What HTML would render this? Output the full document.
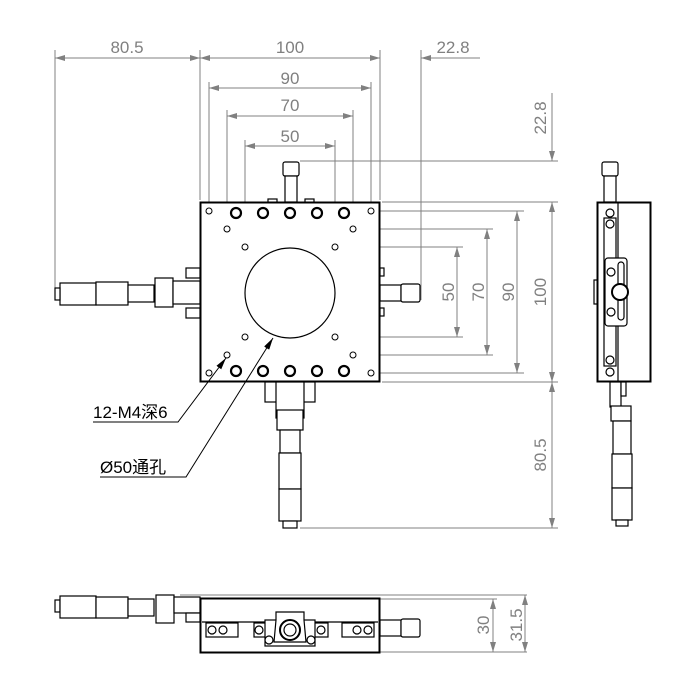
<!DOCTYPE html>
<html><head><meta charset="utf-8"><style>html,body{margin:0;padding:0;background:#fff}svg{display:block}</style></head><body>
<svg width="700" height="700" viewBox="0 0 700 700" xmlns="http://www.w3.org/2000/svg" font-family="'Liberation Sans','Noto Sans CJK SC',sans-serif">
<defs>
<marker id="a" viewBox="0 0 10 6" refX="10" refY="3" markerWidth="10" markerHeight="6" orient="auto-start-reverse" markerUnits="userSpaceOnUse"><path d="M0,0L10,3L0,6z" fill="#808080"/></marker>
<marker id="b" viewBox="0 0 12 6" refX="12" refY="3" markerWidth="12" markerHeight="6" orient="auto" markerUnits="userSpaceOnUse"><path d="M0,0L12,3L0,6z" fill="#000"/></marker>
</defs>
<g stroke="#808080" stroke-width="1" fill="none">
<line x1="55" y1="50" x2="55" y2="290"/><line x1="200" y1="50" x2="200" y2="200"/><line x1="380" y1="50" x2="380" y2="200"/><line x1="421" y1="50" x2="421" y2="300"/>
<line x1="55" y1="58" x2="200" y2="58" marker-start="url(#a)" marker-end="url(#a)"/>
<line x1="200" y1="58" x2="380" y2="58" marker-start="url(#a)" marker-end="url(#a)"/>
<line x1="480" y1="58" x2="421" y2="58" marker-end="url(#a)"/>
<line x1="209" y1="82" x2="209" y2="207"/><line x1="371" y1="82" x2="371" y2="207"/>
<line x1="209" y1="88" x2="371" y2="88" marker-start="url(#a)" marker-end="url(#a)"/>
<line x1="227" y1="110" x2="227" y2="225"/><line x1="353" y1="110" x2="353" y2="225"/>
<line x1="227" y1="116" x2="353" y2="116" marker-start="url(#a)" marker-end="url(#a)"/>
<line x1="245" y1="140" x2="245" y2="243"/><line x1="335" y1="140" x2="335" y2="243"/>
<line x1="245" y1="146" x2="335" y2="146" marker-start="url(#a)" marker-end="url(#a)"/>
<line x1="300" y1="161" x2="558" y2="161"/>
<line x1="552" y1="93" x2="552" y2="161" marker-end="url(#a)"/>
<line x1="382" y1="202" x2="558" y2="202"/><line x1="382" y1="382" x2="558" y2="382"/>
<line x1="552" y1="202" x2="552" y2="382" marker-start="url(#a)" marker-end="url(#a)"/>
<line x1="552" y1="382" x2="552" y2="528" marker-start="url(#a)" marker-end="url(#a)"/>
<line x1="300" y1="528" x2="558" y2="528"/>
<line x1="376" y1="211" x2="524" y2="211"/><line x1="376" y1="373" x2="524" y2="373"/>
<line x1="517" y1="211" x2="517" y2="373" marker-start="url(#a)" marker-end="url(#a)"/>
<line x1="358" y1="229" x2="493" y2="229"/><line x1="358" y1="355" x2="493" y2="355"/>
<line x1="487" y1="229" x2="487" y2="355" marker-start="url(#a)" marker-end="url(#a)"/>
<line x1="340" y1="247" x2="463" y2="247"/><line x1="340" y1="337" x2="463" y2="337"/>
<line x1="457" y1="247" x2="457" y2="337" marker-start="url(#a)" marker-end="url(#a)"/>
<line x1="180" y1="595" x2="527" y2="595"/><line x1="380" y1="599" x2="497" y2="599"/><line x1="380" y1="652" x2="527" y2="652"/>
<line x1="493" y1="599" x2="493" y2="652" marker-start="url(#a)" marker-end="url(#a)"/>
<line x1="525" y1="595" x2="525" y2="652" marker-start="url(#a)" marker-end="url(#a)"/>
</g>
<g fill="#808080" font-size="17">
<text x="127" y="53" text-anchor="middle">80.5</text><text x="290" y="53" text-anchor="middle">100</text><text x="453" y="53" text-anchor="middle">22.8</text>
<text x="290" y="84" text-anchor="middle">90</text><text x="290" y="111" text-anchor="middle">70</text><text x="290" y="142" text-anchor="middle">50</text>
<text transform="translate(546,118) rotate(-90)" text-anchor="middle">22.8</text>
<text transform="translate(546,292) rotate(-90)" text-anchor="middle">100</text>
<text transform="translate(546,455) rotate(-90)" text-anchor="middle">80.5</text>
<text transform="translate(514,292) rotate(-90)" text-anchor="middle">90</text>
<text transform="translate(484,292) rotate(-90)" text-anchor="middle">70</text>
<text transform="translate(454,292) rotate(-90)" text-anchor="middle">50</text>
<text transform="translate(489,625) rotate(-90)" text-anchor="middle">30</text>
<text transform="translate(522,625) rotate(-90)" text-anchor="middle">31.5</text>
</g>
<g stroke="#000" fill="#fff" stroke-width="1.2">
<rect x="283" y="162" width="16" height="14" rx="2"/><rect x="285" y="176" width="12" height="26"/>
<rect x="268" y="199" width="9" height="4"/><rect x="305" y="199" width="9" height="4"/>
<rect x="60" y="283" width="36" height="22"/><rect x="96" y="282" width="32" height="23"/><rect x="128" y="285" width="26" height="17"/>
<rect x="155" y="278" width="18" height="29"/><rect x="173" y="281" width="27" height="23"/>
<rect x="186" y="268" width="14" height="10"/><rect x="186" y="308" width="14" height="10"/>
<rect x="55" y="288" width="5" height="12"/>
<rect x="380" y="285" width="21" height="16"/><rect x="401" y="284" width="19" height="18" rx="2"/>
<rect x="380" y="268" width="4" height="8"/><rect x="380" y="308" width="4" height="8"/>
<rect x="265" y="382" width="50" height="20"/><rect x="276" y="382" width="28" height="36"/>
<rect x="277" y="410" width="26" height="20"/><rect x="280" y="430" width="20" height="23"/>
<rect x="279" y="453" width="22" height="36"/><rect x="279" y="489" width="22" height="32"/><rect x="283" y="521" width="14" height="7"/>
<rect x="200.5" y="202.5" width="179" height="179" stroke-width="2"/>
<circle cx="290" cy="293" r="45"/>
</g>
<g stroke="#000" fill="none" stroke-width="2.2">
<circle cx="236" cy="213" r="5"/><circle cx="263" cy="213" r="5"/><circle cx="290" cy="213" r="5"/><circle cx="317" cy="213" r="5"/><circle cx="344" cy="213" r="5"/>
<circle cx="236" cy="371" r="5"/><circle cx="263" cy="371" r="5"/><circle cx="290" cy="371" r="5"/><circle cx="317" cy="371" r="5"/><circle cx="344" cy="371" r="5"/>
</g>
<g stroke="#000" fill="none" stroke-width="1">
<circle cx="209" cy="211" r="3"/><circle cx="227" cy="229" r="3"/><circle cx="245" cy="247" r="3"/><circle cx="335" cy="247" r="3"/><circle cx="353" cy="229" r="3"/><circle cx="371" cy="211" r="3"/>
<circle cx="209" cy="373" r="3"/><circle cx="227" cy="355" r="3"/><circle cx="245" cy="337" r="3"/><circle cx="335" cy="337" r="3"/><circle cx="353" cy="355" r="3"/><circle cx="371" cy="373" r="3"/>
<polyline points="93,422 178,422 226,358" marker-end="url(#b)"/>
<polyline points="100,477 186,477 273,338" marker-end="url(#b)"/>
</g>
<text x="93" y="418" font-size="17" fill="#000">12-M4深6</text>
<text x="100" y="473" font-size="17" fill="#000">Ø50通孔</text>
<g stroke="#000" fill="#fff" stroke-width="1.2">
<rect x="602" y="162" width="16" height="14" rx="2"/><rect x="604" y="176" width="12" height="26"/>
<rect x="610" y="382" width="11" height="25"/><rect x="621" y="382" width="5" height="14"/>
<rect x="611" y="406" width="20" height="15"/><rect x="613" y="421" width="18" height="33"/>
<rect x="612" y="454" width="20" height="34"/><rect x="612" y="488" width="20" height="32"/><rect x="616" y="520" width="12" height="6"/>
<rect x="594" y="280" width="4" height="24"/>
<rect x="597.5" y="202.5" width="53" height="179" stroke-width="2"/>
<line x1="618" y1="202" x2="618" y2="382"/>
<rect x="604" y="218" width="12" height="148"/>
<rect x="605" y="258" width="22" height="68" rx="3"/>
<rect x="618" y="262" width="6" height="58" rx="3"/>
<circle cx="620" cy="292" r="8" stroke-width="2"/>
<circle cx="611" cy="272" r="4"/><circle cx="611" cy="312" r="4"/>
<circle cx="610" cy="213" r="4"/><circle cx="610" cy="224" r="4"/><circle cx="610" cy="360" r="4"/><circle cx="610" cy="372" r="4"/>
</g>
<g stroke="#000" fill="#fff" stroke-width="1.2">
<rect x="55" y="600" width="5" height="12"/><rect x="60" y="596" width="36" height="22"/><rect x="96" y="597" width="32" height="21"/><rect x="128" y="599" width="26" height="17"/>
<rect x="156" y="595" width="18" height="28"/><rect x="174" y="597" width="26" height="16"/><rect x="186" y="613" width="14" height="9"/>
<rect x="380" y="620" width="21" height="16"/><rect x="401" y="619" width="19" height="18" rx="2"/>
<rect x="200.5" y="598.5" width="179" height="54" stroke-width="2"/>
<line x1="202" y1="622" x2="378" y2="622"/>
<rect x="206" y="623" width="32" height="14"/><rect x="254" y="623" width="26" height="14"/><rect x="302" y="623" width="26" height="14"/><rect x="342" y="623" width="32" height="14"/>
<rect x="265" y="620" width="50" height="26"/>
<path d="M276,620 L276,612 L304,612 L304,620 L306,642 L274,642 Z"/>
<circle cx="290" cy="630" r="10" stroke-width="2"/><circle cx="290" cy="630" r="6"/>
<circle cx="212" cy="630" r="4"/><circle cx="223" cy="630" r="4"/><circle cx="259" cy="630" r="4"/><circle cx="321" cy="630" r="4"/><circle cx="357" cy="630" r="4"/><circle cx="368" cy="630" r="4"/>
<circle cx="269" cy="640" r="4"/><circle cx="311" cy="640" r="4"/>
</g>
</svg>
</body></html>
